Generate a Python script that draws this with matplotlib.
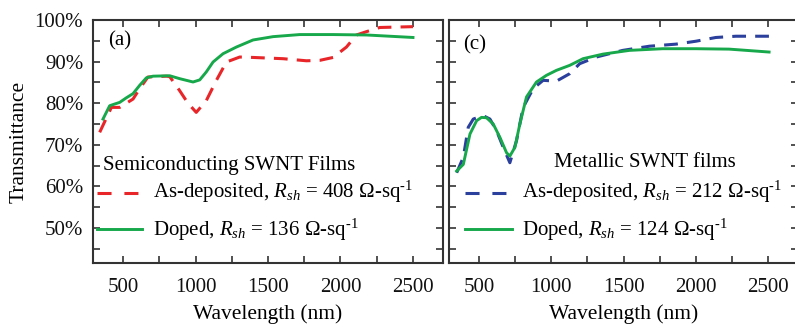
import matplotlib
matplotlib.use("Agg")
import matplotlib.pyplot as plt
from matplotlib.ticker import MultipleLocator, FuncFormatter

plt.rcParams['font.family'] = ['Liberation Serif', 'DejaVu Serif']
plt.rcParams['mathtext.fontset'] = 'custom'
plt.rcParams['mathtext.rm'] = 'Liberation Serif'
plt.rcParams['mathtext.it'] = 'Liberation Serif:italic'

# (a) semiconducting SWNT films
wl_a_dep = [339, 420, 477, 569, 615, 672, 799, 822, 891, 948, 1005, 1074, 1144, 1213,
            1305, 1397, 1604, 1765, 1857, 1949, 2041, 2110, 2179, 2271, 2500]
t_a_dep = [73.0, 79.0, 79.0, 81.0, 83.5, 86.3, 86.5, 86.4, 83.0, 80.0, 77.8, 80.6, 85.5, 89.9,
           91.1, 91.0, 90.7, 90.2, 90.3, 91.0, 93.5, 96.4, 97.2, 98.2, 98.4]
wl_a_dop = [362, 408, 442, 477, 523, 569, 615, 661, 707, 822, 891, 983, 1029, 1074, 1121,
            1190, 1282, 1397, 1535, 1719, 1949, 2179, 2500]
t_a_dop = [76.2, 79.4, 79.8, 80.2, 81.3, 82.3, 84.3, 86.1, 86.5, 86.6, 85.9, 85.1, 85.6, 87.5,
           89.9, 91.9, 93.5, 95.2, 96.0, 96.5, 96.5, 96.4, 95.8]

# (c) metallic SWNT films
wl_c_dep = [346, 392, 426, 461, 530, 576, 622, 668, 714, 760, 806, 875, 944, 1036, 1128,
            1197, 1312, 1495, 1679, 1863, 2001, 2139, 2278, 2507]
t_c_dep = [63.3, 67.0, 74.2, 76.2, 77.0, 76.2, 73.4, 69.4, 65.7, 71.0, 79.0, 83.5, 85.5, 85.3,
           87.1, 89.5, 91.1, 92.7, 93.7, 94.2, 94.9, 95.8, 96.1, 96.1]
wl_c_dop = [346, 392, 438, 484, 518, 553, 599, 645, 691, 714, 749, 783, 829, 898, 967, 1036,
            1128, 1220, 1358, 1541, 1771, 2001, 2231, 2507]
t_c_dop = [63.7, 65.3, 72.6, 75.8, 76.6, 76.5, 75.0, 71.8, 68.1, 67.3, 69.4, 75.0, 81.5, 85.1,
           86.7, 87.9, 89.1, 90.7, 91.8, 92.7, 93.1, 93.1, 93.0, 92.3]

x_ticks = [500, 1000, 1500, 2000, 2500]
y_ticks = [50, 60, 70, 80, 90, 100]

RED = '#e8262a'
GREEN = '#16a84a'
BLUE = '#2b3f9c'
SPINE = '#333333'

W, H = 795, 327
fig = plt.figure(figsize=(W / 100, H / 100), dpi=100)
ax_a = fig.add_axes([93 / W, 1 - 263 / H, (443 - 93) / W, (263 - 20) / H])
ax_c = fig.add_axes([449 / W, 1 - 263 / H, (798 - 449) / W, (263 - 20) / H])

FS = 15
FS_LAB = 15.5
DASH = (4.5, 3.0)
KEY_DASH = (4.6, 4.2)

for ax in (ax_a, ax_c):
    ax.set_xlim(293, 2707)
    ax.set_ylim(41.6, 100)
    ax.set_xticks(x_ticks)
    ax.xaxis.set_minor_locator(MultipleLocator(250))
    ax.set_yticks(y_ticks)
    ax.yaxis.set_minor_locator(MultipleLocator(5))
    ax.tick_params(which='both', direction='in', top=True, right=True, colors=SPINE,
                   labelcolor='#111111', labelsize=FS, width=1.2, length=5)
    ax.tick_params(axis='x', which='major', pad=11)
    ax.tick_params(axis='y', which='major', pad=7)
    for s in ax.spines.values():
        s.set_color(SPINE)
        s.set_linewidth(1.5)
    ax.set_xlabel('Wavelength (nm)', fontsize=FS_LAB, labelpad=5)

ax_a.yaxis.set_major_formatter(FuncFormatter(lambda v, p: f'{v:.0f}%'))
ax_c.tick_params(labelleft=False)
ax_a.set_ylabel('Transmittance', fontsize=FS_LAB, labelpad=4)

l1, = ax_a.plot(wl_a_dep, t_a_dep, color=RED, lw=2.2, dashes=DASH)
l2, = ax_a.plot(wl_a_dop, t_a_dop, color=GREEN, lw=2.1)
l3, = ax_c.plot(wl_c_dep, t_c_dep, color=BLUE, lw=2.2, dashes=DASH)
l4, = ax_c.plot(wl_c_dop, t_c_dop, color=GREEN, lw=2.1)

ax_a.text(0.043, 0.897, '(a)', transform=ax_a.transAxes, fontsize=FS, va='baseline')
ax_c.text(0.040, 0.877, '(c)', transform=ax_c.transAxes, fontsize=FS, va='baseline')


def key(ax, x0, x1, xt, yl, yb, line, label):
    """Draw one key entry: a short sample of the line plus its label."""
    style = {'dashes': KEY_DASH} if line.get_linestyle() != '-' else {}
    ax.plot([x0, x1], [yl, yl], transform=ax.transAxes, color=line.get_color(),
            lw=line.get_linewidth(), clip_on=False, **style)
    ax.text(xt, yb, label, transform=ax.transAxes, fontsize=FS, va='baseline')


ax_a.text(0.029, 0.383, 'Semiconducting SWNT Films', transform=ax_a.transAxes,
          fontsize=FS, va='baseline')
key(ax_a, 0.011, 0.140, 0.171, 0.288, 0.2675, l1,
    r'As-deposited, $R_{sh}$ = 408 $\Omega$-sq$^{\mathregular{\text{-1}}}$')
key(ax_a, 0.011, 0.140, 0.171, 0.140, 0.111, l2,
    r'Doped, $R_{sh}$ = 136 $\Omega$-sq$^{\mathregular{\text{-1}}}$')

ax_c.text(0.301, 0.395, 'Metallic SWNT films', transform=ax_c.transAxes,
          fontsize=FS, va='baseline')
key(ax_c, 0.046, 0.181, 0.209, 0.288, 0.2675, l3,
    r'As-deposited, $R_{sh}$ = 212 $\Omega$-sq$^{\mathregular{\text{-1}}}$')
key(ax_c, 0.046, 0.181, 0.209, 0.140, 0.111, l4,
    r'Doped, $R_{sh}$ = 124 $\Omega$-sq$^{\mathregular{\text{-1}}}$')

fig.savefig('out.png', dpi=100)
